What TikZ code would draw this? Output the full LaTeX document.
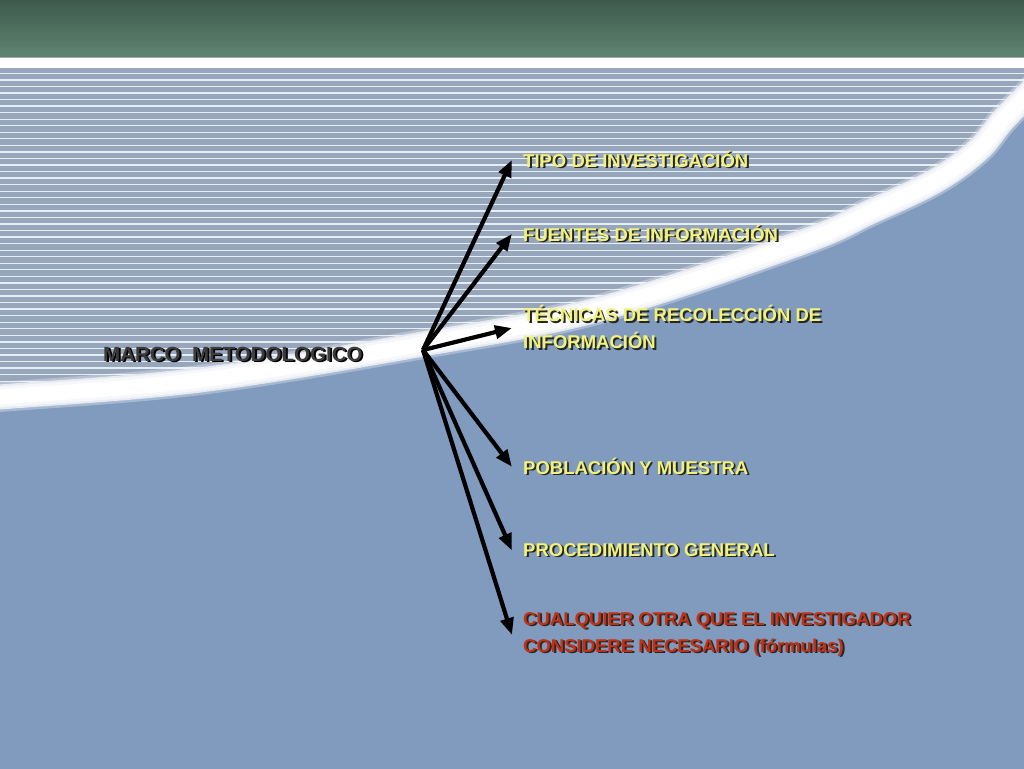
\documentclass[tikz,border=0pt]{standalone}
\usepackage{fontspec}
\setmainfont{Liberation Sans}
\usepackage{tikz}
\usetikzlibrary{arrows.meta}

\definecolor{topdark}{RGB}{62,90,77}
\definecolor{toplight}{RGB}{96,132,114}
\definecolor{stripebg}{RGB}{152,166,188}
\definecolor{stripeln}{RGB}{228,238,245}
\definecolor{lowblue}{RGB}{128,155,190}
\definecolor{itemyellow}{RGB}{242,242,122}
\definecolor{itemred}{RGB}{196,48,18}
\definecolor{marcogray}{RGB}{60,60,60}

\newcommand{\shtxt}[2][black!85]{\makebox[0pt][l]{\kern1.9pt\raisebox{-1.9pt}{\textcolor{#1}{#2}}}#2}
\newcommand{\rimline}{plot[smooth,tension=.6] coordinates {(-20,399) (0,397) (200,380) (423,344) (600,309) (800,243) (870,212) (935,181) (978,150) (1003,120) (1040,82)}}

\begin{document}
\begin{tikzpicture}[x=1pt,y=-1pt,
  item/.style={inner sep=0pt,text=itemyellow,align=left,font=\fontsize{18.5}{27}\selectfont\bfseries},
  arr/.style={line width=4.2pt,-{Triangle[length=17pt,width=13pt]}}]
\useasboundingbox (0,0) rectangle (1024,768);
\fill[stripebg](0,68) rectangle (1024,768);
\foreach \y in {73.3,79.85,...,420} \draw[line width=1.3pt,color=stripeln](0,\y)--(1024,\y);
\fill[lowblue]\rimline--(1040,780)--(-20,780)--cycle;
\draw[line width=30pt,color=white,opacity=.3]\rimline;
\draw[line width=25pt,color=white!80!lowblue]\rimline;
\draw[line width=21pt,color=white!92!lowblue]\rimline;
\draw[line width=15pt,color=white]\rimline;
\shade[top color=topdark,bottom color=toplight](0,0) rectangle (1024,57);
\draw[line width=1.2pt,color=gray!70](0,57.5)--(1024,57.5);
\fill[white](0,58) rectangle (1024,68);

\node[inner sep=0pt,anchor=base west,text=marcogray,font=\fontsize{20.5}{24}\selectfont\bfseries](marco) at (103,361) {\shtxt[black]{MARCO\ \ METODOLOGICO}};
\coordinate (hub) at (423,350);

\node[item,anchor=base west](tipo) at (523,167) {\shtxt{TIPO DE INVESTIGACIÓN}};
\node[item,anchor=base west](fuentes) at (523,241) {\shtxt{FUENTES DE INFORMACIÓN}};
\node[item,anchor=west](tecnicas) at (523,328) {\shtxt{TÉCNICAS DE RECOLECCIÓN DE}\\\shtxt{INFORMACIÓN}};
\node[item,anchor=base west](poblacion) at (523,474) {\shtxt{POBLACIÓN Y MUESTRA}};
\node[item,anchor=base west](procedimiento) at (523,556) {\shtxt{PROCEDIMIENTO GENERAL}};
\node[item,anchor=west,text=itemred](otra) at (523,635) {\shtxt{CUALQUIER OTRA QUE EL INVESTIGADOR}\\\shtxt{CONSIDERE NECESARIO (fórmulas)}};

\draw[arr](hub)--([xshift=-11pt]tipo.west);
\draw[arr](hub)--([xshift=-11pt]fuentes.west);
\draw[arr](hub)--([xshift=-11pt]tecnicas.west);
\draw[arr](hub)--([xshift=-11pt]poblacion.west);
\draw[arr](hub)--([xshift=-11pt]procedimiento.west);
\draw[arr](hub)--([xshift=-11pt]otra.west);
\end{tikzpicture}
\end{document}
